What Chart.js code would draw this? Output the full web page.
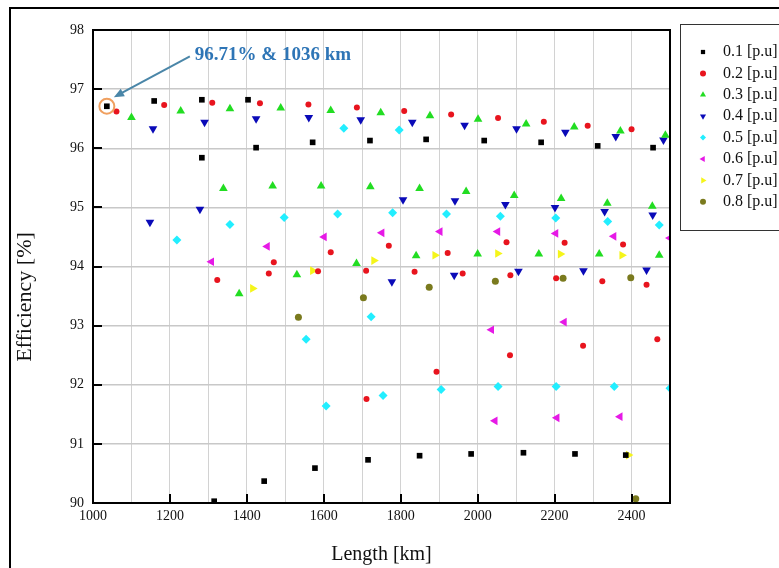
<!DOCTYPE html>
<html>
<head>
<meta charset="utf-8">
<title>Efficiency vs Length</title>
<script src="https://cdn.jsdelivr.net/npm/chart.js@4.4.0/dist/chart.umd.min.js"></script>
<style>
    html, body { margin: 0; padding: 0; background: #fff; overflow: hidden; }
    #wrap { position: relative; width: 779px; height: 568px; }
</style>
</head>
<body>
<div id="wrap"><canvas id="effChart"></canvas></div>
<script>
// series labels (load levels)
const loadLabels = ['0.1 [p.u]', '0.2 [p.u]', '0.3 [p.u]', '0.4 [p.u]', '0.5 [p.u]', '0.6 [p.u]', '0.7 [p.u]', '0.8 [p.u]'];

// line length [km] and efficiency [%]
const len01 = [1036, 1159, 1283, 1283, 1403, 1424, 1315, 1445, 1571, 1577, 1720, 1715, 1866, 1849, 2017, 1983, 2165, 2119, 2312, 2253, 2456, 2385];
const eff01 = [96.71, 96.80, 96.82, 95.84, 96.82, 96.01, 90.03, 90.37, 96.10, 90.59, 96.13, 90.73, 96.15, 90.80, 96.13, 90.83, 96.10, 90.85, 96.04, 90.83, 96.01, 90.81];

const len02 = [1061, 1185, 1310, 1323, 1434, 1457, 1470, 1560, 1585, 1618, 1686, 1710, 1711, 1769, 1809, 1836, 1893, 1931, 1922, 1961, 2053, 2075, 2085, 2084, 2172, 2204, 2226, 2274, 2286, 2324, 2378, 2400, 2439, 2467];
const eff02 = [96.62, 96.73, 96.77, 93.77, 96.76, 93.88, 94.07, 96.74, 93.92, 94.24, 96.69, 93.93, 91.76, 94.35, 96.63, 93.91, 92.22, 96.57, 94.23, 93.88, 96.51, 94.41, 93.85, 92.50, 96.45, 93.80, 94.40, 92.66, 96.38, 93.75, 94.37, 96.32, 93.69, 92.77];

const len03 = [1100, 1228, 1339, 1356, 1380, 1467, 1488, 1530, 1593, 1618, 1685, 1721, 1748, 1840, 1849, 1876, 1970, 2000, 2001, 2095, 2126, 2159, 2217, 2251, 2316, 2337, 2371, 2454, 2472, 2488];
const eff03 = [96.52, 96.63, 95.32, 96.67, 93.54, 95.36, 96.68, 93.86, 95.36, 96.64, 94.05, 95.35, 96.60, 94.18, 95.32, 96.55, 95.27, 94.21, 96.49, 95.20, 96.41, 94.21, 95.15, 96.36, 94.21, 95.07, 96.29, 95.02, 94.19, 96.22];

const len04 = [1156, 1148, 1278, 1290, 1424, 1561, 1696, 1777, 1806, 1830, 1939, 1941, 1966, 2072, 2106, 2101, 2201, 2228, 2275, 2330, 2359, 2439, 2455, 2483];
const eff04 = [96.33, 94.75, 94.97, 96.44, 96.50, 96.52, 96.48, 93.74, 95.13, 96.44, 93.85, 95.11, 96.39, 95.05, 93.92, 96.33, 95.00, 96.27, 93.93, 94.93, 96.20, 93.94, 94.87, 96.14];

const len05 = [1218, 1356, 1497, 1554, 1606, 1636, 1652, 1723, 1754, 1779, 1796, 1905, 1919, 2053, 2059, 2203, 2204, 2338, 2355, 2472, 2500];
const eff05 = [94.45, 94.71, 94.83, 92.77, 91.64, 94.89, 96.34, 93.15, 91.82, 94.91, 96.31, 91.92, 94.89, 91.97, 94.85, 94.82, 91.97, 94.76, 91.97, 94.70, 91.94];

const len06 = [1308, 1453, 1601, 1751, 1902, 2036, 2045, 2052, 2203, 2225, 2206, 2354, 2370, 2500];
const eff06 = [94.08, 94.34, 94.50, 94.57, 94.59, 92.93, 91.39, 94.59, 94.56, 93.06, 91.44, 94.51, 91.46, 94.48];

const len07 = [1415, 1571, 1730, 1889, 2052, 2215, 2375, 2392];
const eff07 = [93.63, 93.93, 94.10, 94.19, 94.22, 94.21, 94.19, 90.81];

const len08 = [1534, 1703, 1874, 2046, 2222, 2398, 2411];
const eff08 = [93.14, 93.47, 93.65, 93.75, 93.80, 93.81, 90.07];

// axis ticks
const xGridTicks = [1000, 1100, 1200, 1300, 1400, 1500, 1600, 1700, 1800, 1900, 2000, 2100, 2200, 2300, 2400, 2500];
const xTickLabels = [1000, 1200, 1400, 1600, 1800, 2000, 2200, 2400];
const yTickLabels = [90, 91, 92, 93, 94, 95, 96, 97, 98];

// highlighted optimum
const peakLength = 1036;
const peakEff = 96.71;

function pairs(xs, ys) {
    return xs.map((v, i) => ({ x: v, y: ys[i] }));
}

const seriesData = [
    pairs(len01, eff01), pairs(len02, eff02), pairs(len03, eff03), pairs(len04, eff04),
    pairs(len05, eff05), pairs(len06, eff06), pairs(len07, eff07), pairs(len08, eff08)
];
const seriesColors = ['#000000', '#e8141e', '#22dd22', '#0a0ab8', '#22eeff', '#e619e6', '#f5f51a', '#7a7a1e'];
const seriesStyles = ['rect', 'circle', 'triangle', 'triangle', 'rectRot', 'triangle', 'triangle', 'circle'];
const seriesRotation = [0, 0, 0, 180, 0, 270, 90, 0];
const seriesRadius = [4, 3, 5, 5, 4.5, 5, 5, 3.5];

const serif = '"Liberation Serif", "Times New Roman", serif';

// frame, inward ticks, y title, peak note and legend box
const decor = {
    id: 'decor',
    beforeDraw(chart) {
        const ctx = chart.ctx;
        ctx.save();
        ctx.strokeStyle = '#000';
        ctx.lineWidth = 2;
        ctx.beginPath();
        ctx.moveTo(10, 570);
        ctx.lineTo(10, 8);
        ctx.lineTo(790, 8);
        ctx.stroke();
        ctx.restore();
    },
    afterDatasetsDraw(chart) {
        const { ctx, chartArea: a, scales: { x, y } } = chart;
        ctx.save();

        // inward tick marks
        ctx.strokeStyle = '#000';
        ctx.lineWidth = 2;
        ctx.beginPath();
        xTickLabels.forEach(v => {
            if (v === 1000) return;
            const px = Math.round(x.getPixelForValue(v));
            ctx.moveTo(px, a.bottom);
            ctx.lineTo(px, a.bottom - 9);
        });
        yTickLabels.forEach(v => {
            if (v === 90 || v === 98) return;
            const py = Math.round(y.getPixelForValue(v));
            ctx.moveTo(a.left, py);
            ctx.lineTo(a.left + 9, py);
        });
        ctx.stroke();
        ctx.strokeRect(a.left, a.top, a.right - a.left, a.bottom - a.top);

        // y title
        ctx.save();
        ctx.translate(25, 297);
        ctx.rotate(-Math.PI / 2);
        ctx.fillStyle = '#111';
        ctx.font = '22px ' + serif;
        ctx.textAlign = 'center';
        ctx.textBaseline = 'middle';
        ctx.fillText('Efficiency [%]', 0, 0);
        ctx.restore();

        // peak marker, arrow and note
        const px = x.getPixelForValue(peakLength);
        const py = y.getPixelForValue(peakEff);
        ctx.strokeStyle = '#f0a060';
        ctx.lineWidth = 2;
        ctx.beginPath();
        ctx.arc(px, py, 7.5, 0, Math.PI * 2);
        ctx.stroke();

        const sx = px + 83, sy = py - 50, tx = px + 7, ty = py - 9;
        const ang = Math.atan2(ty - sy, tx - sx);
        ctx.strokeStyle = '#4a86a8';
        ctx.fillStyle = '#4a86a8';
        ctx.lineWidth = 2;
        ctx.beginPath();
        ctx.moveTo(sx, sy);
        ctx.lineTo(tx - 8 * Math.cos(ang), ty - 8 * Math.sin(ang));
        ctx.stroke();
        ctx.beginPath();
        ctx.moveTo(tx, ty);
        ctx.lineTo(tx - 11 * Math.cos(ang - 0.4), ty - 11 * Math.sin(ang - 0.4));
        ctx.lineTo(tx - 11 * Math.cos(ang + 0.4), ty - 11 * Math.sin(ang + 0.4));
        ctx.closePath();
        ctx.fill();

        ctx.fillStyle = '#2e75b6';
        ctx.font = 'bold 19px ' + serif;
        ctx.textAlign = 'left';
        ctx.textBaseline = 'middle';
        ctx.fillText(peakEff + '% & ' + peakLength + ' km', px + 88, py - 51);

        ctx.restore();
    },
    afterDraw(chart) {
        const ctx = chart.ctx;
        ctx.save();
        ctx.strokeStyle = '#333';
        ctx.lineWidth = 1;
        ctx.strokeRect(680.5, 24.5, 130, 206);
        ctx.font = '16px ' + serif;
        ctx.textBaseline = 'middle';
        ctx.textAlign = 'left';
        chart.data.datasets.forEach((ds, i) => {
            const ly = 52 + i * 21.4;
            ctx.fillStyle = ds.backgroundColor;
            Chart.helpers.drawPoint(ctx, {
                pointStyle: ds.pointStyle,
                rotation: ds.pointRotation,
                radius: ds.pointStyle === 'triangle' ? 3.5 : 3,
                borderWidth: 0
            }, 703, ly);
            ctx.fillStyle = '#111';
            ctx.fillText(ds.label, 723, ly);
        });
        ctx.restore();
    }
};

const datasets = loadLabels.map((lab, i) => ({
    label: lab,
    data: seriesData[i],
    backgroundColor: seriesColors[i],
    borderColor: seriesColors[i],
    borderWidth: 0,
    pointStyle: seriesStyles[i],
    pointRotation: seriesRotation[i],
    pointRadius: seriesRadius[i]
}));

new Chart(document.getElementById('effChart'), {
    type: 'scatter',
    data: { datasets: datasets },
    options: {
        responsive: true,
        maintainAspectRatio: false,
        animation: false,
        layout: { padding: { top: 30, right: 109, left: 0, bottom: 0 } },
        plugins: {
            legend: { display: false },
            tooltip: { enabled: false }
        },
        scales: {
            x: {
                type: 'linear',
                min: 1000,
                max: 2500,
                afterBuildTicks: scale => { scale.ticks = xGridTicks.map(v => ({ value: v })); },
                afterFit: scale => { scale.height = 65; },
                ticks: {
                    autoSkip: false,
                    maxRotation: 0,
                    padding: 5,
                    color: '#111',
                    font: { family: serif, size: 14 },
                    callback: v => xTickLabels.includes(v) ? String(v) : ''
                },
                grid: { color: '#d2d2d2', lineWidth: 1, drawTicks: false },
                border: { display: false },
                title: {
                    display: true,
                    text: 'Length [km]',
                    color: '#111',
                    font: { family: serif, size: 20 },
                    padding: { top: 0, bottom: 1 }
                }
            },
            y: {
                type: 'linear',
                min: 90,
                max: 98,
                afterBuildTicks: scale => { scale.ticks = yTickLabels.map(v => ({ value: v })); },
                afterFit: scale => { scale.width = 93; },
                ticks: {
                    padding: 9,
                    color: '#111',
                    font: { family: serif, size: 14 }
                },
                grid: { color: '#c8c8c8', lineWidth: 1.5, drawTicks: false },
                border: { display: false }
            }
        }
    },
    plugins: [decor]
});
</script>
</body>
</html>
